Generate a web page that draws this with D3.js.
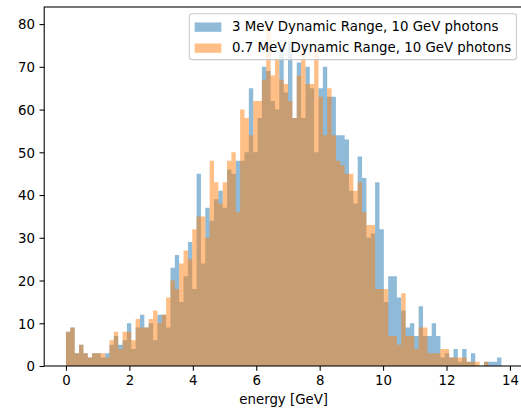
<!DOCTYPE html>
<html>
<head>
<meta charset="utf-8">
<script src="https://cdn.jsdelivr.net/npm/d3@7"></script>
<style>
  body { margin: 0; background: #fff; }
  svg text { font-family: "DejaVu Sans", sans-serif; fill: #000; }
</style>
</head>
<body>
<div id="chart"></div>
<script>
// histogram counts, 100 bins between energyMin and energyMax
const counts3MeV = [
  8, 9, 3, 5, 3, 2, 3, 3, 2, 3,
  5, 7, 5, 6, 10, 4, 9, 12, 9, 10,
  6, 12, 12, 9, 23, 26, 15, 21, 29, 18,
  45, 24, 37, 34, 39, 41, 37, 46, 45, 48,
  48, 50, 65, 50, 58, 70, 69, 62, 60, 74,
  64, 76, 58, 71, 58, 70, 65, 50, 65, 70,
  63, 63, 54, 54, 53, 41, 38, 49, 44, 30,
  31, 43, 32, 15, 21, 21, 16, 13, 9, 10,
  7, 14, 7, 7, 10, 7, 2, 3, 2, 4,
  1, 4, 1, 3, 0, 0, 1, 1, 1, 2
];
const counts07MeV = [
  8, 9, 3, 5, 3, 2, 3, 3, 3, 2,
  6, 8, 4, 8, 8, 6, 11, 9, 9, 11,
  13, 10, 12, 16, 20, 18, 24, 27, 25, 32,
  35, 35, 30, 48, 43, 38, 43, 48, 50, 36,
  60, 58, 54, 62, 62, 67, 80, 68, 72, 67,
  66, 62, 58, 68, 74, 66, 66, 74, 63, 54,
  65, 54, 48, 47, 45, 45, 41, 43, 36, 33,
  33, 18, 18, 18, 7, 7, 5, 17, 7, 7,
  4, 9, 9, 3, 3, 3, 4, 4, 2, 2,
  2, 2, 1, 1, 1, 0, 1, 0, 0, 0
];
const seriesNames = ["3 MeV Dynamic Range, 10 GeV photons", "0.7 MeV Dynamic Range, 10 GeV photons"];
const seriesColors = ["#1f77b4", "#ff7f0e"];
const xTicks = [0, 2, 4, 6, 8, 10, 12, 14];
const yTicks = [0, 10, 20, 30, 40, 50, 60, 70, 80];
const energyMin = 0, energyMax = 13.73, nBins = 100;

const width = 521, height = 408;
const fs = 13.33;           // 10pt
const tickLen = 4.67, tickPad = 4.67, lw = 1.07;
const plot = { left: 44.2, right: 523.15, top: 7, bottom: 366 };

let edges = d3.range(nBins + 1).map(i => energyMin + i * (energyMax - energyMin) / nBins);
let allSeries = [counts3MeV, counts07MeV];

let svg = d3.select("#chart").append("svg")
  .attr("width", width)
  .attr("height", height);

let span = energyMax - energyMin;
let x = d3.scaleLinear()
  .domain([energyMin - 0.05 * span, energyMax + 0.05 * span])
  .range([plot.left, plot.right]);

let ymax = d3.max(allSeries, s => d3.max(s)) * 1.05;
let y = d3.scaleLinear()
  .domain([0, ymax])
  .range([plot.bottom, plot.top]);

// bars drawn as step outlines so neighbouring bins have no seams
let area = d3.area()
  .curve(d3.curveStepAfter)
  .x(d => x(d.e))
  .y0(y(0))
  .y1(d => y(d.c));

let bars = svg.append("g");
allSeries.forEach(function(counts, k) {
  let pts = counts.map((c, i) => ({ e: edges[i], c: c }));
  pts.push({ e: edges[nBins], c: counts[nBins - 1] });
  bars.append("path")
    .attr("d", area(pts))
    .attr("fill", seriesColors[k])
    .attr("fill-opacity", 0.5);
});

// axes
let xAxis = svg.append("g")
  .attr("transform", "translate(0," + plot.bottom + ")")
  .call(d3.axisBottom(x).tickValues(xTicks).tickFormat(d3.format("d"))
    .tickSize(tickLen).tickPadding(tickPad));
let yAxis = svg.append("g")
  .attr("transform", "translate(" + plot.left + ",0)")
  .call(d3.axisLeft(y).tickValues(yTicks).tickFormat(d3.format("d"))
    .tickSize(tickLen).tickPadding(tickPad));

[xAxis, yAxis].forEach(function(ax) {
  ax.select(".domain").remove();
  ax.selectAll(".tick line").attr("stroke", "#000").attr("stroke-width", lw);
  ax.selectAll(".tick text")
    .style("font-size", fs + "px")
    .attr("fill", "#000");
});
xAxis.selectAll(".tick text").attr("dy", "0.76em");
yAxis.selectAll(".tick text").attr("dy", "0.36em");

// frame
svg.append("rect")
  .attr("x", plot.left)
  .attr("y", plot.top)
  .attr("width", plot.right - plot.left)
  .attr("height", plot.bottom - plot.top)
  .attr("fill", "none")
  .attr("stroke", "#000")
  .attr("stroke-width", lw);

svg.append("text")
  .attr("x", (plot.left + plot.right) / 2)
  .attr("y", 404)
  .attr("text-anchor", "middle")
  .style("font-size", fs + "px")
  .text("energy [GeV]");

// legend, upper right
let pad = 0.5 * fs, bpad = 0.4 * fs, hlen = 2 * fs, htp = 0.8 * fs, rowH = 21;
let legend = svg.append("g");
let labels = legend.selectAll("text.lab")
  .data(seriesNames)
  .enter().append("text")
  .attr("class", "lab")
  .style("font-size", fs + "px")
  .text(d => d);
let textW = d3.max(labels.nodes(), n => n.getComputedTextLength());
let boxW = 2 * bpad + hlen + htp + textW;
let boxH = 2 * bpad + 2 * 14.3 + (rowH - 14.3);
let boxR = plot.right - pad, boxT = plot.top + pad;
let boxL = boxR - boxW;

legend.insert("rect", "text")
  .attr("x", boxL)
  .attr("y", boxT)
  .attr("width", boxW)
  .attr("height", boxH)
  .attr("rx", 0.2 * fs)
  .attr("fill", "#fff")
  .attr("fill-opacity", 0.8)
  .attr("stroke", "#ccc")
  .attr("stroke-width", lw);

seriesNames.forEach(function(name, i) {
  let cy = boxT + bpad + 7.15 + i * rowH;
  legend.append("rect")
    .attr("x", boxL + bpad)
    .attr("y", cy - 0.35 * fs + 1)
    .attr("width", hlen)
    .attr("height", 0.7 * fs)
    .attr("fill", seriesColors[i])
    .attr("fill-opacity", 0.5);
});
labels
  .attr("x", boxL + bpad + hlen + htp)
  .attr("y", (d, i) => boxT + bpad + 7.15 + i * rowH + 4.8);
labels.raise();
</script>
</body>
</html>
